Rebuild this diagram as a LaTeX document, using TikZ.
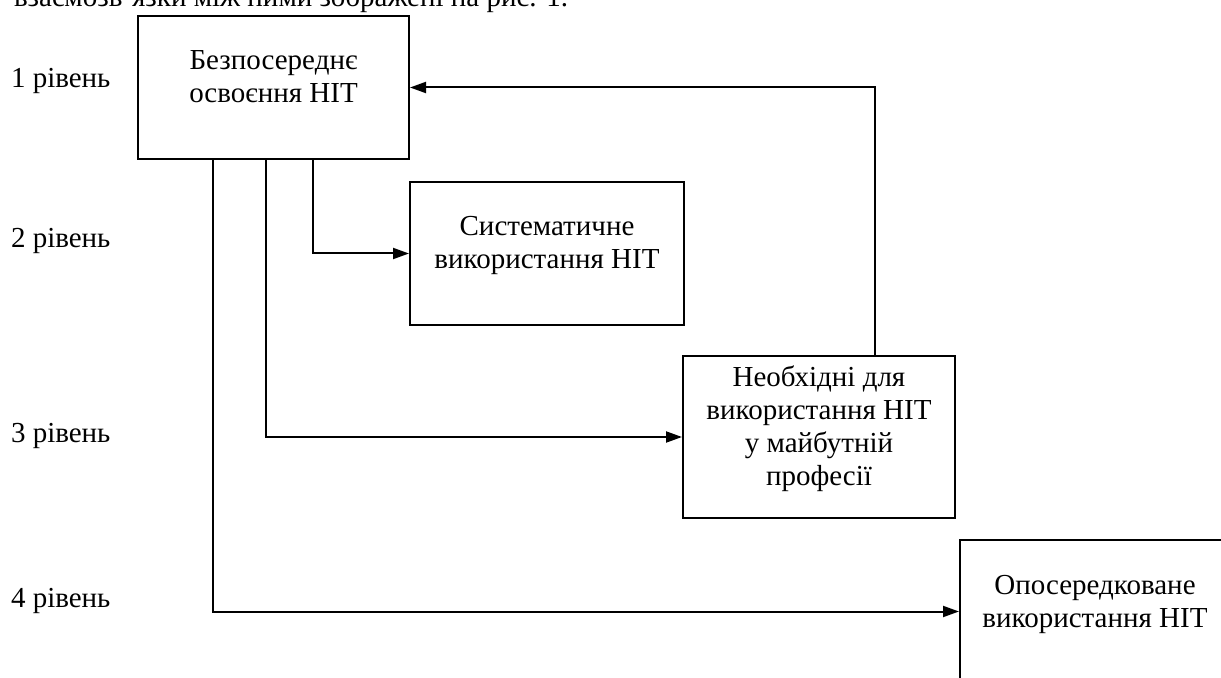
\documentclass[tikz,border=0pt]{standalone}
\usepackage{fontspec}
\setmainfont{Liberation Serif}
\usetikzlibrary{arrows.meta}
\begin{document}
\begin{tikzpicture}[x=0.5pt,y=-0.5pt, line width=1pt,
  box/.style={draw, line width=1pt, minimum height=71.5pt, anchor=north west, inner sep=0pt},
  txt/.style={font=\fontsize{14.5}{16.5}\selectfont, align=center, inner sep=0pt, anchor=north},
  lvl/.style={font=\fontsize{14.5}{16.5}\selectfont, inner sep=0pt, anchor=base west},
  arr/.style={-{Triangle[length=8pt,width=5.5pt]}, line width=1pt}]
\useasboundingbox (0,0) rectangle (1221,678);
\clip (0,0) rectangle (1221,678);
% caption line (cut at top, as in the reference)
\node[lvl] (cap) at (13,7) {взаємозв’язки між ними зображені на рис. 1.};
% level labels
\node[lvl] (l1) at (10,88) {1 рівень};
\node[lvl] (l2) at (10,248) {2 рівень};
\node[lvl] (l3) at (10,443) {3 рівень};
\node[lvl] (l4) at (10,607) {4 рівень};
% boxes
\node[box, minimum width=135.5pt] (b1) at (137,15) {};
\node[box, minimum width=137pt] (b2) at (409,181) {};
\node[box, minimum width=136pt, minimum height=81pt] (b3) at (682,355) {};
\node[box, minimum width=135pt] (b4) at (959,539) {};
% texts
\node[txt] (t1) at ([yshift=-15pt]b1.north) {\rule{0pt}{12pt}Безпосереднє\\освоєння НІТ};
\node[txt] (t2) at ([yshift=-15pt]b2.north) {\rule{0pt}{12pt}Систематичне\\використання НІТ};
\node[txt] (t3) at ([yshift=-3.5pt]b3.north) {\rule{0pt}{12pt}Необхідні для\\використання НІТ\\у майбутній\\професії};
\node[txt] (t4) at ([yshift=-15pt]b4.north) {\rule{0pt}{12pt}Опосередковане\\використання НІТ};
% connectors
\draw[arr] ([xshift=88pt]b1.south west) |- (b2.west);
\draw[arr] ([xshift=64.5pt]b1.south west) |- ([yshift=-41pt]b3.north west);
\draw[arr] ([xshift=38pt]b1.south west) |- (b4.west);
\draw[arr] ([xshift=96.5pt]b3.north west) |- (b1.east);
\end{tikzpicture}
\end{document}
